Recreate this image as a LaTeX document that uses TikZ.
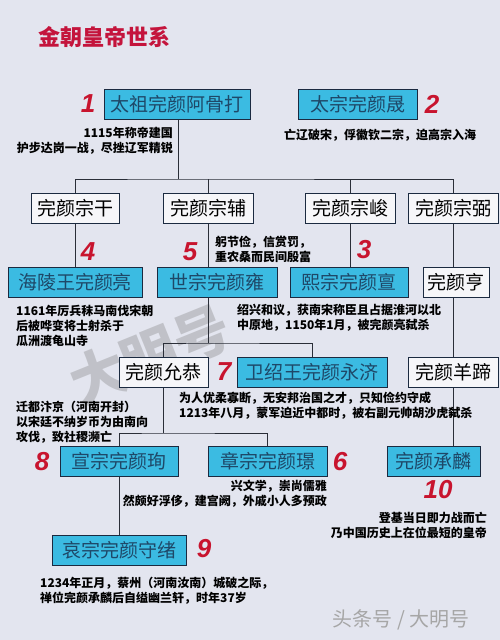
\documentclass[tikz,border=0pt]{standalone}
\usepackage{fontspec}
\newfontfamily\cjk{Noto Sans CJK SC}
\newfontfamily\numfont{Liberation Sans}
\definecolor{bgc}{HTML}{E3E5EF}
\definecolor{boxcyan}{HTML}{3BBBE2}
\definecolor{boxline}{HTML}{1B2A40}
\definecolor{boxtext}{HTML}{1E4868}
\definecolor{boxwhite}{HTML}{F6F6F9}
\definecolor{numred}{HTML}{C8142E}
\definecolor{titlered}{HTML}{C4143C}
\definecolor{linec}{HTML}{2A2E38}
\tikzset{
  ebox/.style={draw=boxline, line width=1pt, minimum height=30pt, inner sep=0pt,
    font=\cjk\fontsize{19}{19}\selectfont},
  cyanbox/.style={ebox, fill=boxcyan, text=boxtext},
  whitebox/.style={ebox, fill=boxwhite, text=black},
  note/.style={font=\cjk\bfseries\fontsize{12}{15}\selectfont, inner sep=0pt, text=black},
  numlabel/.style={text=numred, font=\numfont\bfseries\itshape\fontsize{26}{26}\selectfont, inner sep=0pt},
  link/.style={draw=linec, line width=0.9pt}
}
\begin{document}
\begin{tikzpicture}[x=1pt,y=-1pt]
\fill[bgc] (0,0) rectangle (500,640);
\useasboundingbox (0,0) rectangle (500,640);
% watermark
\node[text=gray, opacity=0.35, rotate=22, font=\cjk\bfseries\fontsize{56}{56}\selectfont] (wm) at (150,355) {大明号};
\node[text=gray!70, font=\cjk\fontsize{20}{20}\selectfont] (wm2) at (401,620) {头条号 / 大明号};
% title
\node[text=titlered, font=\cjk\bfseries\fontsize{22}{22}\selectfont] (title) at (104,37) {金朝皇帝世系};
% row 1
\node[cyanbox, minimum width=146pt] (taizu) at (177,104) {太祖完颜阿骨打};
\node[cyanbox, minimum width=119pt] (taizong) at (357.5,104) {太宗完颜晟};
% row 2
\node[whitebox, minimum width=88pt] (zonggan) at (75,208) {完颜宗干};
\node[whitebox, minimum width=90pt] (zongfu) at (208,208) {完颜宗辅};
\node[whitebox, minimum width=90pt] (zongjun) at (350,208) {完颜宗峻};
\node[whitebox, minimum width=90pt] (zongbi) at (453,208) {完颜宗弼};
% row 3
\node[cyanbox, minimum width=134pt] (hailing) at (75,282.5) {海陵王完颜亮};
\node[cyanbox, minimum width=120pt] (shizong) at (217,282.5) {世宗完颜雍};
\node[cyanbox, minimum width=118pt] (xizong) at (349,282.5) {熙宗完颜亶};
\node[whitebox, minimum width=66pt] (heng) at (456,282.5) {完颜亨};
% row 4
\node[whitebox, minimum width=89pt] (yungong) at (163.5,372) {完颜允恭};
\node[cyanbox, minimum width=150pt] (weishao) at (312,372) {卫绍王完颜永济};
\node[whitebox, minimum width=90pt] (yangti) at (453,372) {完颜羊蹄};
% row 5
\node[cyanbox, minimum width=118pt] (xuanzong) at (119,461.5) {宣宗完颜珣};
\node[cyanbox, minimum width=119pt] (zhangzong) at (267.5,461.5) {章宗完颜璟};
\node[cyanbox, minimum width=93pt] (chenglin) at (433.5,461) {完颜承麟};
% row 6
\node[cyanbox, minimum width=134pt] (aizong) at (119,550.5) {哀宗完颜守绪};
% junction coordinates
\coordinate (barA) at (178,179);
\coordinate (barB) at (208,343);
\coordinate (barC) at (163.5,433);
% connectors
\draw[link] (taizu.south -| barA) -- (barA);
\draw[link] (zonggan.north) |- (barA) -| (zongbi.north);
\draw[link] (zongfu.north) -- (zongfu.north |- barA);
\draw[link] (zongjun.north) -- (zongjun.north |- barA);
\draw[link] (zonggan.south) -- (hailing.north -| zonggan.south);
\draw[link] (zongfu.south) -- (zongfu.south |- shizong.north);
\draw[link] (zongjun.south) -- (zongjun.south |- xizong.north);
\draw[link] (zongbi.south) -- (zongbi.south |- heng.north);
\draw[link] (zongfu.south |- shizong.south) -- (barB);
\draw[link] (yungong.north) |- (barB) -| (weishao.north);
\draw[link] (zongbi.south |- heng.south) -- (yangti.north);
\draw[link] (yangti.south) -- (yangti.south |- chenglin.north);
\draw[link] (yungong.south) -- (barC);
\draw[link] (xuanzong.north) |- (barC) -| (zhangzong.north);
\draw[link] (xuanzong.south) -- (aizong.north);
% numbers
\node[numlabel] (k1) at (88,104) {1};
\node[numlabel] (k2) at (432,104) {2};
\node[numlabel] (k4) at (88,252) {4};
\node[numlabel] (k5) at (190,252) {5};
\node[numlabel] (k3) at (364,250) {3};
\node[numlabel] (k7) at (224,372) {7};
\node[numlabel] (k8) at (42,462) {8};
\node[numlabel] (k6) at (340,462) {6};
\node[numlabel] (k10) at (438,490) {10};
\node[numlabel] (k9) at (204,549) {9};
% notes
\node[note, align=right, anchor=east] (t1) at (173,141) {1115年称帝建国\\护步达岗一战，尽挫辽军精锐};
\node[note] (t2) at (380,135) {亡辽破宋，俘徽钦二宗，迫高宗入海};
\node[note, align=left, anchor=west] (t5) at (215,249.5) {躬节俭，信赏罚，\\重农桑而民间殷富};
\node[note, align=left, anchor=west] (t4) at (16,326) {1161年厉兵秣马南伐宋朝\\后被哗变将士射杀于\\瓜洲渡龟山寺};
\node[note, align=left, anchor=west] (t3) at (237,317.5) {绍兴和议，获南宋称臣且占据淮河以北\\中原地，1150年1月，被完颜亮弑杀};
\node[note, align=left, anchor=west] (t8) at (16,422.5) {迁都汴京（河南开封）\\以宋廷不纳岁币为由南向\\攻伐，致社稷濒亡};
\node[note, align=left, anchor=west] (t7) at (179,405.5) {为人优柔寡断，无安邦治国之才，只知俭约守成\\1213年八月，蒙军迫近中都时，被右副元帅胡沙虎弑杀};
\node[note, align=right, anchor=east] (t6) at (327,493.5) {兴文学，崇尚儒雅\\然颇好浮侈，建宫阙，外戚小人多预政};
\node[note, align=right, anchor=east] (t10) at (487,525) {登基当日即力战而亡\\乃中国历史上在位最短的皇帝};
\node[note, align=left, anchor=west] (t9) at (40,591) {1234年正月，蔡州（河南汝南）城破之际，\\禅位完颜承麟后自缢幽兰轩，时年37岁};
\end{tikzpicture}
\end{document}
